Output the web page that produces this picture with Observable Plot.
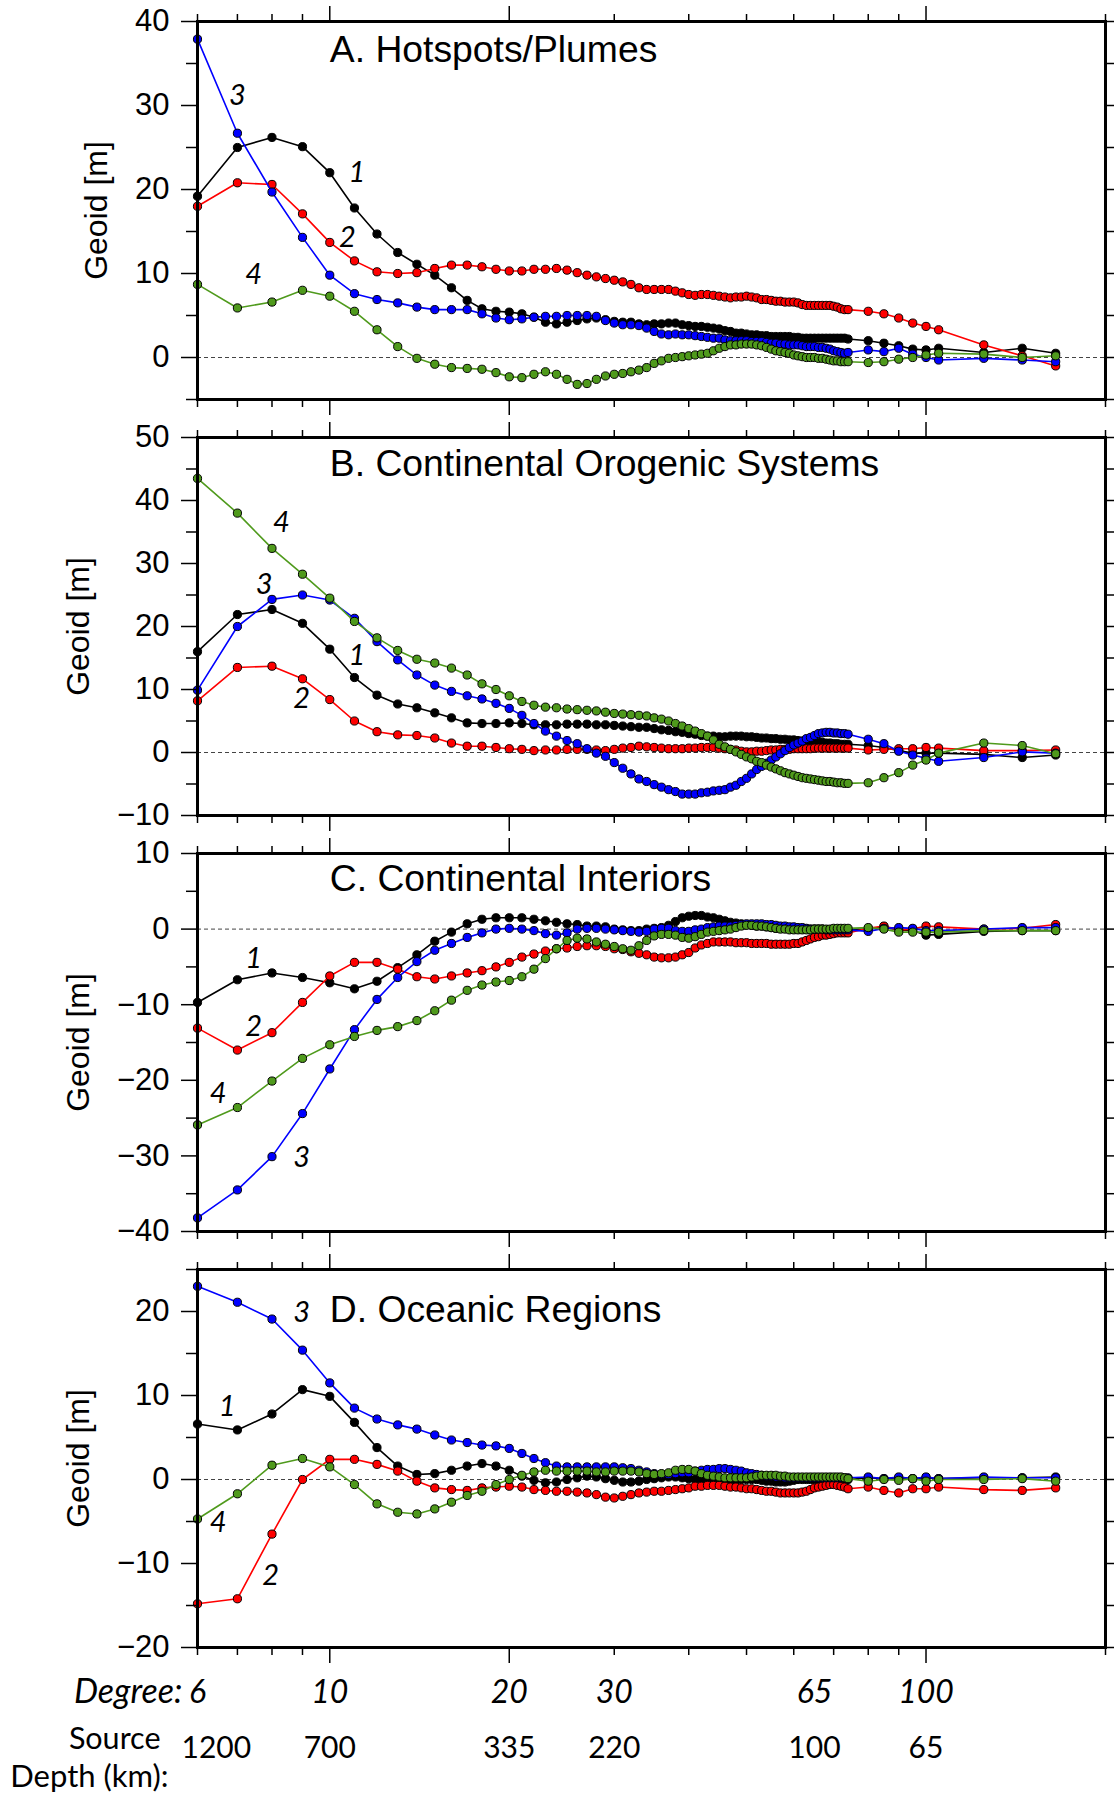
<!DOCTYPE html>
<html><head><meta charset="utf-8">
<script src="https://cdn.jsdelivr.net/npm/d3@7"></script>
<script src="https://cdn.jsdelivr.net/npm/@observablehq/plot@0.6"></script>
<style>
html,body{margin:0;padding:0;background:#fff;}
#fig{width:1115px;}
#fig svg{display:block;}
</style></head><body><div id="fig"></div>
<script>
// ---------- data ----------
const degrees = [6,7,8,9,10,11,12,13,14,15,16,17,18,19,20,21,22,23,24,25,26,27,28,29,30,31,32,33,34,35,36,37,38,39,40,41,42,43,44,45,46,47,48,49,50,51,52,53,54,55,56,57,58,59,60,61,62,63,64,65,66,67,68,69,70,71,72,73,74,80,85,90,95,100,105,125,145,165];

const seriesNames = ["1","2","3","4"];
const seriesColors = ["#000000","#ff0000","#0000ff","#4f9a1c"];

// A. Hotspots/Plumes
const hotspots1 = [19.2,25.0,26.2,25.1,22.0,17.8,14.7,12.5,11.1,9.8, 8.3,6.8,5.8,5.5,5.4,5.2,4.8,4.2,4.0,4.2, 4.4,4.6,4.7,4.5,4.3,4.2,4.2,4.0,3.9,4.0, 4.0,4.1,4.1,3.9,3.8,3.7,3.7,3.6,3.5,3.4, 3.2,3.1,2.9,2.9,2.8,2.7,2.7,2.6,2.6,2.5, 2.5,2.5,2.5,2.5,2.4,2.4,2.3,2.3,2.3,2.3, 2.3,2.3,2.3,2.3,2.3,2.3,2.3,2.3,2.2, 2.0,1.7,1.4,1.0,0.9,1.1,0.6,1.1,0.5];
const hotspots2 = [18.0,20.8,20.6,17.1,13.7,11.5,10.2,10.0,10.1,10.6, 11.0,11.0,10.8,10.5,10.3,10.3,10.5,10.5,10.6,10.4, 10.1,9.8,9.6,9.4,9.2,9.0,8.7,8.3,8.1,8.1, 8.1,8.1,7.9,7.7,7.5,7.4,7.5,7.5,7.4,7.3, 7.2,7.1,7.2,7.2,7.3,7.2,7.1,6.9,6.9,6.8, 6.7,6.7,6.6,6.6,6.6,6.5,6.3,6.2,6.2,6.2, 6.2,6.2,6.2,6.2,6.1,6.0,5.8,5.7,5.7, 5.5,5.2,4.7,4.1,3.7,3.3,1.5,0.2,-1.0];
const hotspots3 = [37.9,26.7,19.7,14.3,9.8,7.6,6.9,6.5,6.0,5.7, 5.7,5.7,5.2,4.7,4.5,4.6,4.8,4.9,4.9,5.0, 5.0,5.0,4.9,4.4,4.1,3.9,3.9,3.8,3.5,3.1, 2.8,2.7,2.8,2.7,2.7,2.6,2.5,2.4,2.3,2.3, 2.1,2.0,2.0,2.0,2.0,1.9,1.9,1.9,1.8,1.7, 1.7,1.6,1.6,1.5,1.5,1.5,1.4,1.3,1.3,1.3, 1.2,1.2,1.1,1.0,0.8,0.7,0.6,0.5,0.6, 0.9,0.7,1.1,0.4,0.0,-0.3,-0.1,-0.3,-0.5];
const hotspots4 = [8.7,5.9,6.6,8.0,7.3,5.5,3.3,1.3,-0.1,-0.8, -1.2,-1.3,-1.4,-1.8,-2.3,-2.4,-2.0,-1.7,-2.0,-2.6, -3.2,-3.1,-2.6,-2.2,-2.0,-1.9,-1.7,-1.5,-1.2,-0.7, -0.4,-0.1,0.0,0.1,0.2,0.3,0.4,0.5,0.8,1.1, 1.3,1.5,1.5,1.6,1.6,1.6,1.5,1.4,1.2,1.0, 0.8,0.7,0.6,0.5,0.3,0.2,0.1,0.0,0.0,0.0, -0.1,-0.1,-0.2,-0.3,-0.4,-0.4,-0.5,-0.5,-0.5, -0.6,-0.5,-0.2,0.0,0.3,0.5,0.4,0.0,0.2];

// B. Continental Orogenic Systems
const orogenic1 = [16.0,21.9,22.7,20.5,16.4,11.9,9.1,7.7,7.1,6.3, 5.5,4.7,4.6,4.6,4.7,4.6,4.4,4.4,4.4,4.5, 4.5,4.5,4.4,4.4,4.3,4.2,4.1,4.0,4.0,3.8, 3.6,3.5,3.3,3.2,3.0,2.9,2.7,2.6,2.6,2.5, 2.5,2.6,2.6,2.6,2.5,2.5,2.4,2.3,2.3,2.2, 2.2,2.1,2.1,2.0,2.0,1.9,1.8,1.8,1.7,1.7, 1.6,1.6,1.5,1.5,1.4,1.4,1.3,1.3,1.3, 1.1,0.8,0.3,-0.1,-0.1,-0.1,-0.3,-0.8,-0.4];
const orogenic2 = [8.2,13.5,13.7,11.7,8.4,5.0,3.3,2.8,2.7,2.3, 1.5,1.0,1.0,0.8,0.6,0.5,0.3,0.4,0.4,0.5, 0.5,0.5,0.4,0.3,0.5,0.7,0.8,1.0,0.9,0.8, 0.7,0.6,0.6,0.6,0.7,0.7,0.8,0.8,0.8,0.7, 0.6,0.5,0.4,0.2,0.1,0.1,0.2,0.2,0.3,0.4, 0.4,0.5,0.5,0.5,0.6,0.6,0.6,0.6,0.6,0.7, 0.7,0.7,0.7,0.7,0.7,0.7,0.7,0.7,0.7, 0.4,0.5,0.6,0.6,0.8,0.7,0.3,0.3,0.4];
const orogenic3 = [9.9,20.0,24.3,25.0,24.2,21.3,17.6,14.7,12.3,10.7, 9.7,9.0,8.5,7.8,7.0,5.9,4.6,3.4,2.6,1.9, 1.4,0.6,-0.1,-0.6,-1.6,-2.5,-3.4,-4.2,-4.6,-5.1, -5.5,-5.9,-6.2,-6.6,-6.6,-6.6,-6.4,-6.3,-6.1,-6.0, -5.9,-5.5,-5.2,-4.6,-4.1,-3.4,-2.7,-2.2,-1.7,-1.2, -0.7,-0.2,0.3,0.8,1.2,1.5,1.8,2.2,2.4,2.7, 3.0,3.1,3.2,3.2,3.1,3.1,3.0,3.0,2.9, 2.1,1.4,0.2,-0.4,-0.9,-1.4,-0.8,0.1,-0.1];
const orogenic4 = [43.5,38.0,32.4,28.3,24.5,20.8,18.2,16.2,14.8,14.2, 13.4,12.3,10.9,10.0,9.0,8.1,7.5,7.2,7.1,6.9, 6.8,6.7,6.6,6.4,6.2,6.1,6.0,5.9,5.8,5.5, 5.3,5.0,4.6,4.2,3.8,3.4,3.0,2.6,2.0,1.3, 0.9,0.5,0.1,-0.3,-0.7,-1.0,-1.4,-1.6,-2.0,-2.3, -2.6,-2.9,-3.2,-3.4,-3.6,-3.8,-4.0,-4.1,-4.2,-4.3, -4.4,-4.5,-4.6,-4.6,-4.7,-4.8,-4.8,-4.9,-4.9, -4.8,-4.0,-3.2,-2.0,-1.2,-0.1,1.5,1.1,-0.2];

// C. Continental Interiors
const interiors1 = [-9.7,-6.7,-5.8,-6.4,-7.1,-7.9,-6.9,-5.1,-3.4,-1.6, -0.4,0.7,1.3,1.5,1.5,1.5,1.3,1.1,0.9,0.7, 0.6,0.4,0.4,0.3,0.0,-0.1,-0.2,-0.2,0.0,0.1, 0.2,0.5,1.0,1.5,1.7,1.8,1.8,1.6,1.5,1.3, 1.1,0.9,0.8,0.7,0.6,0.5,0.4,0.4,0.3,0.2, 0.1,0.1,0.1,0.0,0.0,0.0,0.0,0.0,0.0,0.0, 0.0,0.0,-0.1,-0.1,-0.1,-0.1,-0.1,-0.1,-0.1, 0.0,0.3,-0.1,-0.2,-0.8,-0.7,-0.3,-0.2,-0.2];
const interiors2 = [-13.1,-16.0,-13.7,-9.7,-6.2,-4.4,-4.4,-5.3,-6.3,-6.6, -6.2,-5.8,-5.5,-5.0,-4.4,-3.7,-3.3,-2.9,-2.6,-2.5, -2.3,-2.2,-2.2,-2.3,-2.6,-2.7,-3.0,-3.2,-3.4,-3.7, -3.8,-3.8,-3.7,-3.4,-3.1,-2.5,-2.1,-1.9,-1.7,-1.7, -1.7,-1.7,-1.8,-1.8,-1.8,-1.9,-1.9,-1.9,-1.9,-2.0, -2.0,-2.0,-2.0,-2.0,-1.9,-1.9,-1.7,-1.5,-1.3,-1.1, -1.0,-0.8,-0.8,-0.7,-0.6,-0.5,-0.5,-0.5,-0.5, 0.1,0.4,-0.1,0.0,0.4,0.3,0.0,0.1,0.6];
const interiors3 = [-38.2,-34.5,-30.1,-24.4,-18.5,-13.3,-9.3,-6.4,-4.3,-2.8, -1.9,-1.1,-0.5,0.0,0.1,0.0,-0.2,-0.6,-0.8,-0.5, 0.0,0.1,0.1,0.0,-0.1,-0.2,-0.3,-0.4,-0.3,0.0, 0.1,0.1,-0.2,-0.3,-0.3,-0.1,0.0,0.2,0.3,0.4, 0.4,0.4,0.5,0.6,0.7,0.7,0.7,0.7,0.6,0.6, 0.5,0.4,0.4,0.3,0.3,0.2,0.2,0.1,0.0,0.0, 0.0,0.0,-0.1,-0.1,-0.1,-0.1,-0.1,-0.1,-0.1, -0.3,0.1,0.2,0.1,-0.2,-0.2,0.0,0.2,0.2];
const interiors4 = [-25.9,-23.6,-20.1,-17.1,-15.3,-14.2,-13.4,-12.9,-12.1,-10.8, -9.4,-8.1,-7.4,-7.0,-6.8,-6.3,-5.3,-3.9,-2.6,-1.5, -1.2,-1.3,-1.7,-2.0,-2.3,-2.6,-2.8,-2.2,-1.5,-0.9, -0.7,-0.7,-0.8,-1.1,-1.2,-1.0,-0.7,-0.4,-0.3,-0.2, -0.1,0.0,0.2,0.4,0.5,0.5,0.4,0.4,0.3,0.2, 0.1,0.0,0.0,-0.1,-0.1,-0.1,-0.1,-0.1,-0.1,0.0, 0.0,0.0,0.0,0.0,0.1,0.1,0.1,0.1,0.1, 0.2,0.0,-0.4,-0.4,-0.4,-0.4,-0.2,-0.2,-0.2];

// D. Oceanic Regions
const oceanic1 = [6.6,5.9,7.8,10.7,9.9,6.8,3.8,1.6,0.6,0.7, 1.1,1.6,1.9,1.6,1.1,0.4,-0.1,-0.4,-0.3,0.0, 0.2,0.4,0.3,0.1,-0.1,-0.3,-0.3,-0.2,0.0,0.1, 0.2,0.3,0.3,0.2,0.1,0.0,0.0,-0.1,-0.1,-0.1, -0.1,-0.1,-0.1,0.0,0.0,0.0,0.0,-0.1,-0.2,-0.2, -0.3,-0.3,-0.3,-0.2,-0.1,0.0,0.0,0.0,0.0,0.0, 0.0,0.0,0.0,0.0,0.0,0.0,0.0,0.0,0.0, 0.2,0.1,0.2,0.1,0.2,0.1,0.2,0.2,0.3];
const oceanic2 = [-14.8,-14.2,-6.5,0.0,2.4,2.4,1.8,1.0,-0.2,-1.0, -1.2,-1.3,-1.0,-0.9,-0.8,-0.9,-1.2,-1.3,-1.4,-1.4, -1.5,-1.6,-1.8,-2.1,-2.2,-2.0,-1.8,-1.6,-1.5,-1.4, -1.4,-1.3,-1.2,-1.1,-1.0,-0.8,-0.8,-0.7,-0.7,-0.7, -0.8,-0.9,-0.9,-1.0,-1.1,-1.1,-1.2,-1.3,-1.4,-1.4, -1.5,-1.6,-1.6,-1.6,-1.6,-1.6,-1.5,-1.4,-1.2,-1.0, -0.9,-0.8,-0.7,-0.6,-0.6,-0.7,-0.8,-0.9,-1.1, -0.9,-1.3,-1.6,-1.1,-1.1,-0.9,-1.2,-1.3,-1.0];
const oceanic3 = [23.0,21.1,19.1,15.4,11.5,8.5,7.2,6.5,6.0,5.3, 4.7,4.4,4.1,4.0,3.7,3.1,2.5,2.0,1.6,1.5, 1.5,1.5,1.5,1.5,1.5,1.4,1.3,1.1,0.9,0.7, 0.6,0.6,0.7,0.8,0.8,1.0,1.1,1.2,1.2,1.3, 1.3,1.2,1.1,1.0,0.8,0.7,0.6,0.5,0.4,0.4, 0.3,0.3,0.2,0.2,0.2,0.2,0.2,0.2,0.2,0.2, 0.2,0.2,0.2,0.2,0.2,0.2,0.2,0.2,0.2, 0.3,0.1,0.3,0.1,0.3,0.1,0.3,0.2,0.2];
const oceanic4 = [-4.7,-1.7,1.7,2.5,1.5,-0.6,-2.9,-3.9,-4.1,-3.5, -2.7,-1.9,-1.4,-0.6,0.0,0.5,0.9,1.1,1.0,1.0, 1.0,1.0,0.9,0.9,1.0,1.0,1.0,0.9,0.7,0.6, 0.7,0.8,1.1,1.2,1.2,1.0,0.7,0.5,0.4,0.3, 0.2,0.2,0.2,0.2,0.2,0.3,0.4,0.5,0.5,0.5, 0.5,0.4,0.4,0.3,0.3,0.3,0.3,0.3,0.3,0.3, 0.3,0.3,0.3,0.3,0.3,0.3,0.3,0.2,0.1, -0.2,0.0,-0.1,0.1,-0.2,0.0,0.0,0.1,-0.2];

// axis ticks and labels
const xMajorTicks = [10, 20, 100];
const xMinorTicks = [6, 7, 8, 9, 30, 40, 50, 60, 70, 80, 90, 200];
const degreeTicks = [6, 10, 20, 30, 65, 100];
const degreeTickLabels = ["6", "10", "20", "30", "65", "100"];
const depthTickLabels = ["1200", "700", "335", "220", "100", "65"];

const titles = ["A. Hotspots/Plumes", "B. Continental Orogenic Systems", "C. Continental Interiors", "D. Oceanic Regions"];
const yDomains = [[-5, 40], [-10, 50], [-40, 10], [-20, 25]];
const yMajorTicks = [[0, 10, 20, 30, 40], [-10, 0, 10, 20, 30, 40, 50], [-40, -30, -20, -10, 0, 10], [-20, -10, 0, 10, 20]];
const yMinorTicks = [[-5, 5, 15, 25, 35], [-5, 5, 15, 25, 35, 45], [-35, -25, -15, -5, 5], [-15, -5, 5, 15, 25]];

// curve annotations (series id, degree, geoid)
const curveLabels = [
  [{s: "3", d: 7.0, v: 31.2}, {s: "1", d: 11.1, v: 22.0}, {s: "2", d: 10.7, v: 14.3}, {s: "4", d: 7.45, v: 9.8}],
  [{s: "4", d: 8.3, v: 36.5}, {s: "3", d: 7.76, v: 26.6}, {s: "1", d: 11.1, v: 15.3}, {s: "2", d: 8.97, v: 8.5}],
  [{s: "1", d: 7.45, v: -3.9}, {s: "2", d: 7.45, v: -12.9}, {s: "4", d: 6.5, v: -21.8}, {s: "3", d: 8.97, v: -30.3}],
  [{s: "3", d: 8.97, v: 19.8}, {s: "1", d: 6.73, v: 8.7}, {s: "4", d: 6.5, v: -5.2}, {s: "2", d: 7.96, v: -11.5}]
];

const panelSeries = [
  [hotspots1, hotspots2, hotspots3, hotspots4],
  [orogenic1, orogenic2, orogenic3, orogenic4],
  [interiors1, interiors2, interiors3, interiors4],
  [oceanic1, oceanic2, oceanic3, oceanic4]
];

// ---------- layout ----------
const sansFont = "'Liberation Sans', Arial, Helvetica, sans-serif";
const humanistFont = "Lato, 'Open Sans', 'Noto Sans', sans-serif";
const layout = [
  {height: 418, mt: 21, mb: 19, titleDy: 29, labelOffset: 101},
  {height: 416, mt: 19, mb: 19, titleDy: 27, labelOffset: 119},
  {height: 416, mt: 19, mb: 19, titleDy: 26, labelOffset: 119},
  {height: 548, mt: 19, mb: 151, titleDy: 41, labelOffset: 119}
];
const fmt = d => d < 0 ? "\u2212" + Math.abs(d) : String(d);
const blank = () => "";

function drawPanel(i) {
  const L = layout[i];
  const marks = [Plot.ruleY([0], {stroke: "#444", strokeWidth: 1, strokeDasharray: "4,3"})];
  panelSeries[i].forEach((vals, k) => {
    const rows = degrees.map((d, j) => ({degree: d, geoid: vals[j], series: seriesNames[k]}));
    marks.push(Plot.line(rows, {x: "degree", y: "geoid", stroke: seriesColors[k], strokeWidth: 1.6}));
    marks.push(Plot.dot(rows, {x: "degree", y: "geoid", r: 4.1, fill: seriesColors[k], stroke: "#000", strokeWidth: 1}));
  });
  const allY = [...yMajorTicks[i], ...yMinorTicks[i]];
  marks.push(
    Plot.frame({stroke: "#000", strokeWidth: 3}),
    Plot.axisY({ticks: yMajorTicks[i], tickSize: 16, tickPadding: 12, tickFormat: fmt, strokeWidth: 1.5, label: null}),
    Plot.axisY({ticks: yMinorTicks[i], tickSize: 11, tickFormat: blank, strokeWidth: 1.5, label: null}),
    Plot.axisY({anchor: "right", ticks: allY, tickSize: 8, tickFormat: blank, strokeWidth: 1.5, label: null}),
    Plot.axisX({anchor: "top", ticks: xMajorTicks, tickSize: 16, tickFormat: blank, strokeWidth: 1.5, label: null}),
    Plot.axisX({anchor: "top", ticks: xMinorTicks, tickSize: 8, tickFormat: blank, strokeWidth: 1.5, label: null}),
    Plot.axisX({anchor: "bottom", ticks: xMajorTicks, tickSize: 16, tickFormat: blank, strokeWidth: 1.5, label: null}),
    Plot.axisX({anchor: "bottom", ticks: xMinorTicks, tickSize: 8, tickFormat: blank, strokeWidth: 1.5, label: null}),
    Plot.text([{d: 10, t: titles[i]}], {x: "d", text: "t", frameAnchor: "top", dy: L.titleDy, lineAnchor: "middle", textAnchor: "start", fontSize: 37.3, fontFamily: sansFont}),
    Plot.text(curveLabels[i], {x: "d", y: "v", text: "s", fontStyle: "italic", fontSize: 29, fontFamily: humanistFont}),
    Plot.text(["Geoid [m]"], {text: d => d, frameAnchor: "left", rotate: -90, dx: -L.labelOffset, textAnchor: "middle", lineAnchor: "middle", fontSize: 32, fontFamily: sansFont})
  );
  if (i === 3) {
    const degRows = degreeTicks.map((d, j) => ({d, t: degreeTickLabels[j], depth: depthTickLabels[j]}));
    marks.push(
      Plot.text(["Degree:"], {text: d => d, frameAnchor: "bottom-left", dx: -15, dy: 45, textAnchor: "end", lineAnchor: "middle", fontStyle: "italic", fontSize: 34, fontFamily: humanistFont}),
      Plot.text(degRows, {x: "d", text: "t", frameAnchor: "bottom", dy: 45, lineAnchor: "middle", fontStyle: "italic", fontSize: 32, fontFamily: humanistFont}),
      Plot.text(degRows.slice(0, 1), {x: "d", text: "depth", frameAnchor: "bottom", dy: 101, dx: -16, textAnchor: "start", lineAnchor: "middle", fontSize: 30, fontFamily: humanistFont}),
      Plot.text(degRows.slice(1), {x: "d", text: "depth", frameAnchor: "bottom", dy: 101, lineAnchor: "middle", fontSize: 30, fontFamily: humanistFont}),
      Plot.text(["Source"], {text: d => d, frameAnchor: "bottom-left", dx: -37, dy: 92, textAnchor: "end", lineAnchor: "middle", fontSize: 30.5, fontFamily: humanistFont}),
      Plot.text(["Depth (km):"], {text: d => d, frameAnchor: "bottom-left", dx: -29, dy: 130, textAnchor: "end", lineAnchor: "middle", fontSize: 31, fontFamily: humanistFont})
    );
  }
  return Plot.plot({
    width: 1115,
    height: L.height,
    marginLeft: 197,
    marginRight: 10,
    marginTop: L.mt,
    marginBottom: L.mb,
    x: {type: "log", domain: [6, 200], axis: null},
    y: {domain: yDomains[i], axis: null},
    style: {fontFamily: sansFont, fontSize: "31px", color: "#000", background: "#fff", overflow: "visible"},
    marks
  });
}

const fig = document.getElementById("fig");
for (let i = 0; i < 4; i++) fig.appendChild(drawPanel(i));
</script>
</body></html>
